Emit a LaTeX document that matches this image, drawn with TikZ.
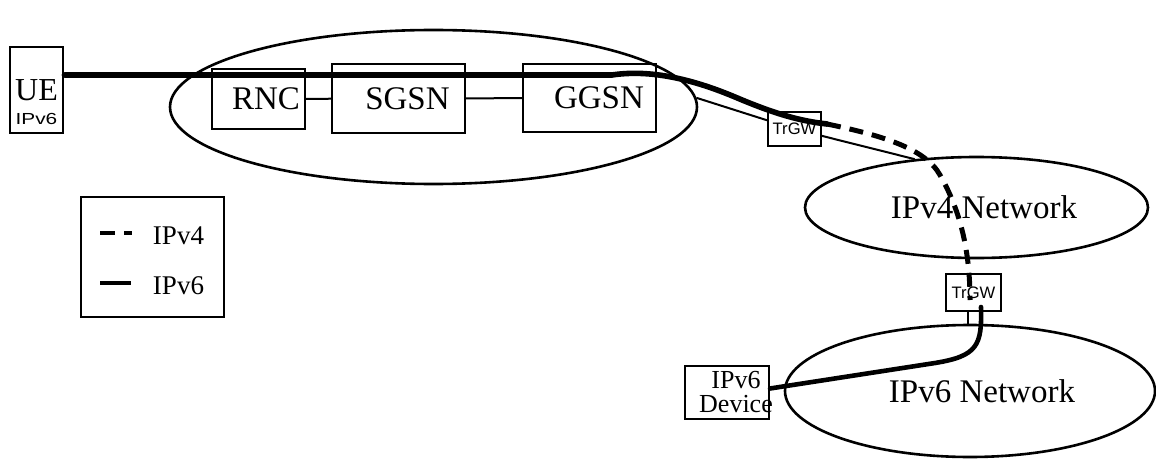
\documentclass[tikz,border=0pt]{standalone}
\usepackage{fontspec}
\setmainfont{Liberation Serif}
\newfontfamily\gwfont{Liberation Sans}
\newfontfamily\gwwide[FakeStretch=1.3]{Liberation Sans}
\usetikzlibrary{shapes.geometric}
\begin{document}
\begin{tikzpicture}[x=0.5pt, y=-0.5pt,
    every node/.style = {inner sep=0pt},
    box/.style = {draw, rectangle, line width=1pt},
    net/.style = {draw, ellipse, line width=1.3pt},
    big/.style = {font=\fontsize{16.5}{18}\selectfont},
    gwbox/.style = {box, font=\gwfont\fontsize{8.3}{9}\selectfont,
      minimum width=26.5pt, minimum height=17pt},
    keytext/.style = {font=\fontsize{13.5}{15}\selectfont},
    link/.style = {line width=1pt},
    v6link/.style = {line width=2.8pt, line cap=round},
    v4link/.style = {line width=2.5pt, dash pattern=on 7pt off 4.5pt}]

  \useasboundingbox (0,0) rectangle (1156,460);

  % networks
  \node[net, minimum width=263.5pt, minimum height=77pt] (core) at (433.5,107) {};
  \node[net, minimum width=171.5pt, minimum height=50.5pt,
    label={[big, xshift=3.75pt]center:IPv4 Network}] (v4) at (976.5,207.5) {};
  \node[net, minimum width=185pt, minimum height=66pt,
    label={[big, xshift=6pt]center:IPv6 Network}] (v6) at (970,391) {};

  % equipment
  \node[box, line width=1.4pt, minimum width=26.5pt, minimum height=43pt,
    label={[align=center, yshift=-6pt, font=\fontsize{16}{12}\selectfont]center:UE\\{\gwwide\fontsize{8}{12}\selectfont IPv6}}] (ue) at (36.5,90) {};
  \node[box, minimum width=46.5pt, minimum height=30pt,
    label={[big, xshift=3.75pt]center:RNC}] (rnc) at (258.5,99) {};
  \node[box, minimum width=66.5pt, minimum height=34.5pt,
    label={[big, xshift=4.5pt]center:SGSN}] (sgsn) at (398.5,98.5) {};
  \node[box, minimum width=66.5pt, minimum height=34pt,
    label={[big, xshift=4.75pt]center:GGSN}] (ggsn) at (589.5,98) {};
  \node[gwbox] (gw1) at (794.5,129) {TrGW};
  \node[gwbox, minimum width=27.5pt, minimum height=18.5pt] (gw2) at (973.5,292.5) {TrGW};
  \node[box, minimum width=42pt, minimum height=26.5pt,
    label={[align=center, xshift=4.5pt, font=\fontsize{13}{12}\selectfont]center:IPv6\\Device}] (dev) at (727,392.5) {};

  % legend
  \node[box, line width=1.4pt, minimum width=71.5pt, minimum height=60pt] (key) at (152.5,257) {};
  \node[keytext] (v4key) at (178.5,236) {IPv4};
  \node[keytext] (v6key) at (178.5,286) {IPv6};
  \draw[line width=2pt, dash pattern=on 7.5pt off 4.5pt] (100,233) -- (132,233);
  \draw[line width=2pt] (100,283) -- (131,283);

  \coordinate (gw1tap) at (827,124);
  \coordinate (gw2tap) at (970,300);
  \coordinate (gw2foot) at (981,307);

  % links
  \draw[link] (rnc) -- (sgsn);
  \draw[link] (sgsn) -- (ggsn);
  \draw[link] (core.2) -- (gw1);
  \draw[link] (gw1) -- (v4.142);
  \draw[link] ([xshift=-3pt]gw2.south) -- ([xshift=-3pt]gw2.south |- v6.north);

  % paths
  \draw[v6link] ([yshift=7.5pt]ue.east) -- (612,75)
    .. controls (645,70) and (685,76) .. (735,97)
    .. controls (775,114) and (800,121) .. (gw1tap);
  \draw[v4link] (gw1tap) .. controls (880,135) and (925,148) .. (940,175)
    .. controls (960,210) and (970,250) .. (gw2tap);
  \draw[v6link, line width=2.3pt] ([yshift=2pt]dev.east) -- (935,363)
    .. controls (978,356) and (982,345) .. (gw2foot);
\end{tikzpicture}
\end{document}
